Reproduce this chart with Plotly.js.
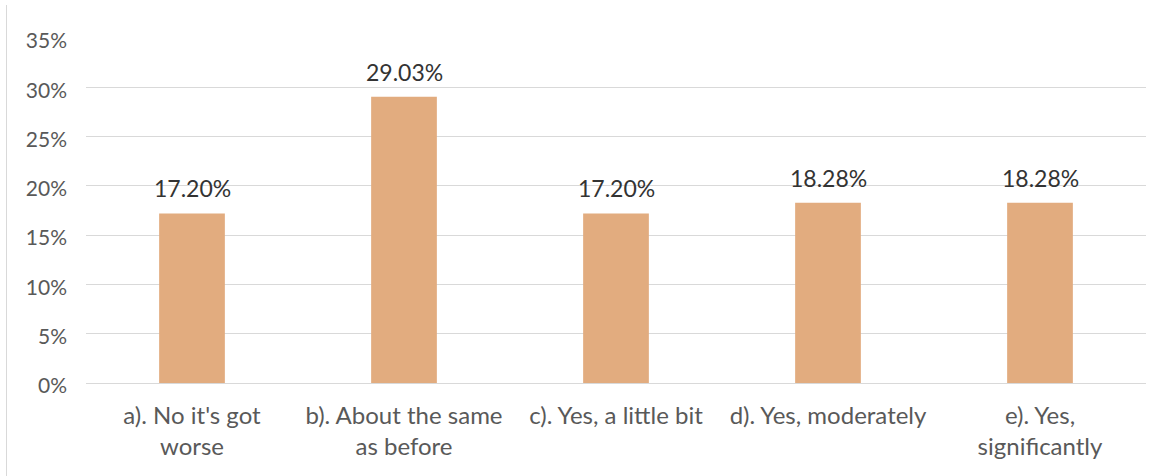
<!DOCTYPE html>
<html>
<head>
<meta charset="utf-8">
<script src="https://cdn.plot.ly/plotly-3.0.1.min.js"></script>
<style>
html,body{margin:0;padding:0;background:#fff;}
#frame{position:absolute;left:6px;top:5px;width:1px;height:471px;background:#d9d9d9;}
#chart{width:1167px;height:476px;}
</style>
</head>
<body>
<div id="chart"></div>
<div id="frame"></div>
<script>
const categories = [
  "a). No it's got<br>worse",
  "b). About the same<br>as before",
  "c). Yes, a little bit",
  "d). Yes, moderately",
  "e). Yes,<br>significantly"
];
const values = [17.20, 29.03, 17.20, 18.28, 18.28];
const valueLabels = ["17.20%", "29.03%", "17.20%", "18.28%", "18.28%"];
const tickVals = [0, 5, 10, 15, 20, 25, 30, 35];
const tickText = ["0%", "5%", "10%", "15%", "20%", "25%", "30%", "35%"];

const font = "Lato, 'Open Sans', 'Liberation Sans', sans-serif";

const trace = {
  type: 'bar',
  x: categories,
  y: values,
  marker: {color: '#E2AC7F', line: {width: 0}},
  hoverinfo: 'none'
};

const annotations = categories.map((c, i) => ({
  x: c, y: values[i], xref: 'x', yref: 'y',
  text: valueLabels[i], showarrow: false,
  yanchor: 'bottom', yshift: 9,
  font: {family: font, size: 23, color: '#333333'}
}));

const layout = {
  width: 1167, height: 476,
  margin: {l: 86, r: 21, t: 38, b: 93},
  paper_bgcolor: '#ffffff', plot_bgcolor: '#ffffff',
  showlegend: false,
  bargap: 0.69,
  xaxis: {
    type: 'category',
    showgrid: false, zeroline: false, showline: false,
    ticks: '', ticklabelstandoff: 16,
    tickfont: {family: font, size: 24, color: '#595959'}
  },
  yaxis: {
    range: [0, 35],
    tickvals: tickVals, ticktext: tickText,
    showgrid: true, gridcolor: '#D9D9D9', gridwidth: 1,
    zeroline: true, zerolinecolor: '#D9D9D9', zerolinewidth: 1,
    showline: false, ticks: '',
    ticklabelstandoff: 18, ticklabelshift: 3,
    tickfont: {family: font, size: 21, color: '#595959'}
  },
  annotations: annotations
};

Plotly.newPlot('chart', [trace], layout, {displayModeBar: false, staticPlot: true});
</script>
</body>
</html>
